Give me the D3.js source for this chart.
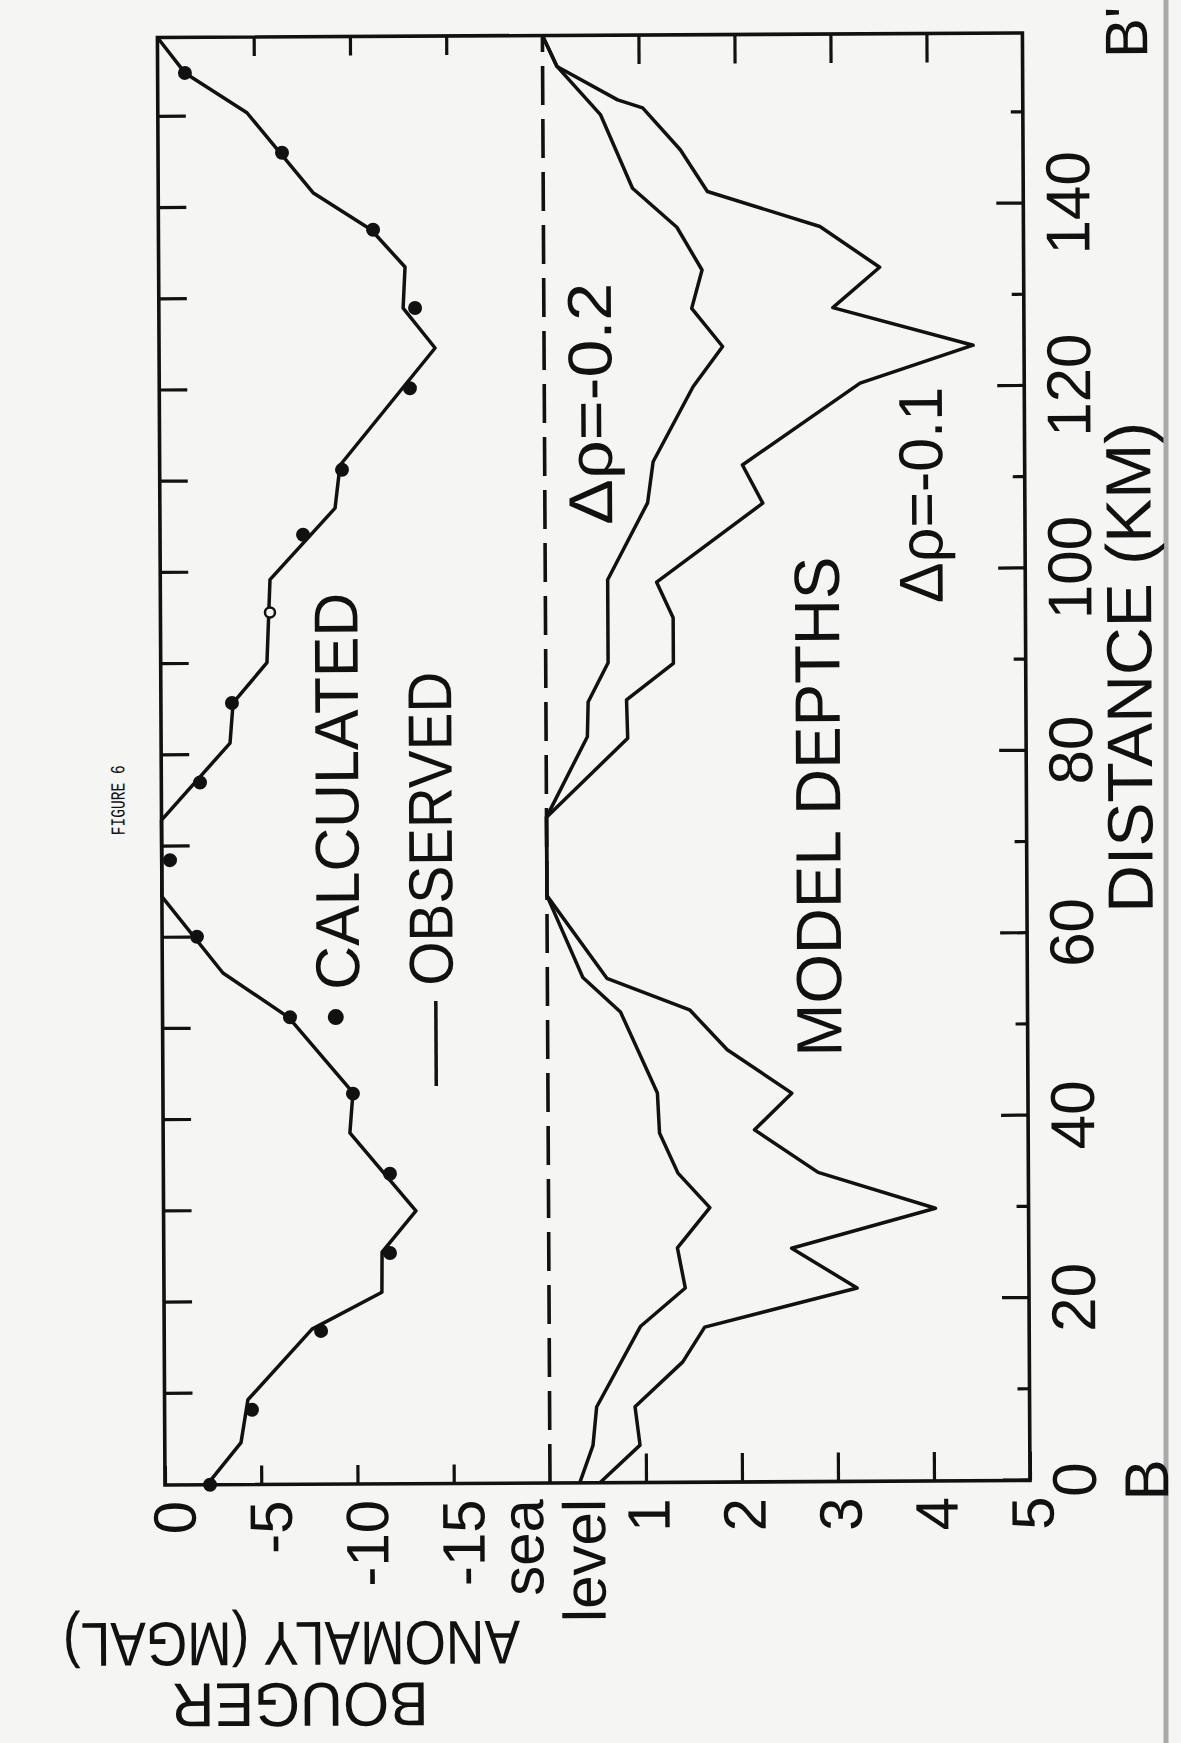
<!DOCTYPE html>
<html>
<head>
<meta charset="utf-8">
<script src="https://cdn.jsdelivr.net/npm/d3@7"></script>
<style>
  body { margin: 0; background: #f5f5f3; }
  svg { display: block; }
  text { font-family: "Liberation Sans", Arial, sans-serif; fill: #111; }
</style>
</head>
<body>
<svg width="1181" height="1743"></svg>
<script>
// Bouguer anomaly profile B-B' (distance in km, anomaly in mgal)
var observedKm   = [0, 4.6, 9.3, 17.0, 21.0, 25.4, 29.9, 38.5, 42.9, 51.2, 56.1, 64.5, 72.9, 81.3, 85.7, 90.1, 99.2, 107.0, 111.7, 124.5, 128.9, 133.4, 137.5, 141.6, 150.4, 154.8, 158.7];
var observedMgal = [-2.18, -3.96, -4.33, -7.68, -11.32, -11.34, -13.11, -9.70, -9.87, -6.55, -3.15, 0, 0, -3.58, -3.75, -5.52, -5.70, -9.10, -9.37, -14.34, -12.69, -12.80, -11.05, -8.04, -4.63, -1.42, 0];

var calcKm   = [0, 8.2, 16.8, 25.3, 34.0, 42.8, 51.2, 60.1, 68.5, 77.0, 85.7, 95.6, 104.1, 111.2, 120.1, 128.9, 137.5, 146.0, 154.8];
var calcMgal = [-2.34, -4.54, -8.15, -11.75, -11.77, -9.87, -6.62, -1.81, -0.43, -2.01, -3.69, -5.69, -7.43, -9.47, -13.02, -13.31, -11.15, -6.44, -1.42];
var hollowDots = [11]; // this calculated point is drawn as an open circle

// model depths (km below sea level)
var depth01Km = [0, 4.1, 8.3, 13.2, 17.0, 21.2, 25.6, 29.9, 33.9, 38.6, 42.6, 47.4, 51.8, 55.3, 64.4, 73.0, 81.6, 85.8, 89.8, 94.8, 98.7, 107.3, 111.5, 120.4, 124.5, 128.7, 133.1, 137.6, 141.5, 146.1, 150.7, 151.6, 155.3, 158.7];
var depth01   = [0.52, 0.94, 0.89, 1.39, 1.62, 3.21, 2.53, 4.03, 2.81, 2.15, 2.54, 1.87, 1.48, 0.62, 0, 0, 0.85, 0.84, 1.33, 1.33, 1.16, 2.27, 2.06, 3.29, 4.47, 3.01, 3.50, 2.88, 1.71, 1.43, 1.04, 0.78, 0.15, 0];

var depth02Km = [0, 4.1, 8.3, 17.1, 21.3, 25.7, 30.1, 33.9, 38.3, 42.7, 51.6, 55.4, 64.4, 73.0, 81.8, 85.6, 89.9, 99.0, 107.4, 111.9, 120.1, 124.5, 128.7, 132.9, 137.6, 141.9, 150.0, 155.3, 158.7];
var depth02   = [0.31, 0.45, 0.49, 0.95, 1.42, 1.34, 1.68, 1.35, 1.16, 1.14, 0.76, 0.37, 0, 0, 0.43, 0.44, 0.65, 0.65, 1.07, 1.13, 1.55, 1.86, 1.54, 1.65, 1.39, 0.93, 0.60, 0.15, 0];

var distTicks  = d3.range(0, 151, 10);
var anomTicks  = [0, -5, -10, -15];
var depthTicks = [1, 2, 3, 4, 5];

var svg = d3.select("svg");

// scanned page edge on the right
svg.append("line")
    .attr("x1", 1166).attr("x2", 1166).attr("y1", 0).attr("y2", 1743)
    .attr("stroke", "#a9a9a9").attr("stroke-width", 5);

// the figure is drawn in landscape and turned onto the page (slightly skewed like the scan)
var W = 1447.5, H1 = 385, H = 865;
var g = svg.append("g").attr("transform", "translate(165,1485) rotate(-90.3)");

var x = d3.scaleLinear().domain([0, 158.7]).range([0, W]);
var yAnom = d3.scaleLinear().domain([0, -20]).range([0, H1]);
var yDepth = d3.scaleLinear().domain([0, 5]).range([H1, H]);

function styleAxis(ax) {
  ax.attr("font-size", null).attr("font-family", null);
  ax.select(".domain").remove();
  ax.selectAll(".tick line").attr("stroke", "#111").attr("stroke-width", 3.2);
  return ax;
}

// distance ticks, labelled side (B-B' axis)
var axDist = styleAxis(g.append("g")
    .attr("transform", "translate(0," + H + ")")
    .call(d3.axisBottom(x).tickValues(distTicks).tickSize(-27)
      .tickFormat(function(d) { return d % 20 === 0 ? String(d) : ""; })));
axDist.selectAll(".tick line").attr("y2", function(d) { return d % 20 === 0 ? -27 : -12; });
axDist.selectAll(".tick text").attr("y", 66).attr("dy", null).style("font-size", "62px");

// distance ticks along the anomaly-zero edge
styleAxis(g.append("g")
    .call(d3.axisTop(x).tickValues(d3.range(10, 151, 10)).tickSize(-28).tickFormat("")));

// anomaly and depth ticks on both ends
var axAnom = styleAxis(g.append("g")
    .call(d3.axisLeft(yAnom).tickValues(anomTicks).tickSize(-19).tickPadding(16)
      .tickFormat(function(d) { return String(d); })));
axAnom.selectAll(".tick text").attr("y", 30).attr("dy", null).style("font-size", "60px");

var axDepth = styleAxis(g.append("g")
    .call(d3.axisLeft(yDepth).tickValues(depthTicks).tickSize(-29).tickPadding(16)
      .tickFormat(function(d) { return String(d); })));
axDepth.selectAll(".tick text").attr("y", 23).attr("dy", null).style("font-size", "60px");

styleAxis(g.append("g").attr("transform", "translate(" + W + ",0)")
    .call(d3.axisRight(yAnom).tickValues([-5, -10, -15]).tickSize(-19).tickFormat("")));
styleAxis(g.append("g").attr("transform", "translate(" + W + ",0)")
    .call(d3.axisRight(yDepth).tickValues([1, 2, 3, 4]).tickSize(-29).tickFormat("")));

g.append("text").attr("x", -16).attr("y", 378).attr("text-anchor", "end")
    .style("font-size", "60px").text("sea");
g.append("text").attr("x", -16).attr("y", 440).attr("text-anchor", "end")
    .style("font-size", "60px").text("level");

// sea level
g.append("line")
    .attr("x1", x(0)).attr("x2", x(158.7))
    .attr("y1", yDepth(0)).attr("y2", yDepth(0))
    .attr("stroke", "#111").attr("stroke-width", 3.6)
    .attr("stroke-dasharray", "39,14");

// frame
g.append("rect")
    .attr("x", 0).attr("y", 0).attr("width", W).attr("height", H)
    .attr("fill", "none").attr("stroke", "#111").attr("stroke-width", 3.6);

var anomLine = d3.line().x(function(d) { return x(d[0]); }).y(function(d) { return yAnom(d[1]); });
var depthLine = d3.line().x(function(d) { return x(d[0]); }).y(function(d) { return yDepth(d[1]); });

g.append("path")
    .datum(d3.zip(observedKm, observedMgal))
    .attr("d", anomLine)
    .attr("fill", "none").attr("stroke", "#111").attr("stroke-width", 3.5)
    .attr("stroke-linejoin", "round");

[[depth02Km, depth02], [depth01Km, depth01]].forEach(function(s) {
  g.append("path")
      .datum(d3.zip(s[0], s[1]))
      .attr("d", depthLine)
      .attr("fill", "none").attr("stroke", "#111").attr("stroke-width", 3.5)
      .attr("stroke-linejoin", "round");
});

g.append("g").selectAll("circle")
    .data(d3.zip(calcKm, calcMgal))
    .enter().append("circle")
    .attr("cx", function(d) { return x(d[0]); })
    .attr("cy", function(d) { return yAnom(d[1]); })
    .attr("r", function(d, i) { return hollowDots.indexOf(i) >= 0 ? 5 : 7; })
    .attr("fill", function(d, i) { return hollowDots.indexOf(i) >= 0 ? "#f5f5f3" : "#111"; })
    .attr("stroke", "#111")
    .attr("stroke-width", function(d, i) { return hollowDots.indexOf(i) >= 0 ? 2.5 : 0; });

// legend
g.append("circle").attr("cx", x(51.2)).attr("cy", yAnom(-9.0)).attr("r", 8).attr("fill", "#111");
g.append("text").attr("x", x(54.2)).attr("y", yAnom(-10.23))
    .attr("textLength", 397).attr("lengthAdjust", "spacingAndGlyphs")
    .style("font-size", "62px").text("CALCULATED");
g.append("line")
    .attr("x1", x(43.6)).attr("x2", x(52.9))
    .attr("y1", yAnom(-14.2)).attr("y2", yAnom(-14.2))
    .attr("stroke", "#111").attr("stroke-width", 3.5);
g.append("text").attr("x", x(54.6)).attr("y", yAnom(-15.08))
    .attr("textLength", 314).attr("lengthAdjust", "spacingAndGlyphs")
    .style("font-size", "62px").text("OBSERVED");

// annotations
g.append("text").attr("x", x(74.0)).attr("y", yDepth(3.06)).attr("text-anchor", "middle")
    .attr("textLength", 500).attr("lengthAdjust", "spacingAndGlyphs")
    .style("font-size", "64px").text("MODEL DEPTHS");
g.append("text").attr("x", x(118.3)).attr("y", yDepth(0.70)).attr("text-anchor", "middle")
    .attr("textLength", 242).attr("lengthAdjust", "spacingAndGlyphs")
    .style("font-size", "62px").text("Δρ=-0.2");
g.append("text").attr("x", x(108.1)).attr("y", yDepth(4.14)).attr("text-anchor", "middle")
    .attr("textLength", 216).attr("lengthAdjust", "spacingAndGlyphs")
    .style("font-size", "62px").text("Δρ=-0.1");

// axis titles
g.append("text").attr("x", x(89.1)).attr("y", yDepth(6.31)).attr("text-anchor", "middle")
    .attr("textLength", 491).attr("lengthAdjust", "spacingAndGlyphs")
    .style("font-size", "64px").text("DISTANCE (KM)");
g.append("text").attr("x", x(0)).attr("y", yDepth(6.44)).attr("text-anchor", "middle")
    .style("font-size", "62px").text("B");
g.append("text").attr("x", x(158.7)).attr("y", yDepth(6.30)).attr("text-anchor", "middle")
    .style("font-size", "60px").text("B'");

g.append("text")
    .attr("transform", "translate(" + x(-21.8) + "," + yAnom(-6.96) + ") rotate(-90)")
    .attr("text-anchor", "middle")
    .attr("textLength", 257).attr("lengthAdjust", "spacingAndGlyphs")
    .style("font-size", "62px").text("BOUGER");
// squeezed with a scale (not textLength) so its box stays inside the page
g.append("text")
    .attr("transform", "translate(" + x(-15.1) + "," + yAnom(-18.4) + ") rotate(-90) scale(0.86,1)")
    .attr("text-anchor", "start")
    .style("font-size", "62px").text("ANOMALY (MGAL)");

g.append("text").attr("x", x(75.1)).attr("y", yAnom(1.92)).attr("text-anchor", "middle")
    .attr("textLength", 70).attr("lengthAdjust", "spacingAndGlyphs")
    .style("font-family", "'Liberation Mono', 'DejaVu Sans Mono', monospace")
    .style("font-size", "20px").text("FIGURE 6");

</script>
</body>
</html>
